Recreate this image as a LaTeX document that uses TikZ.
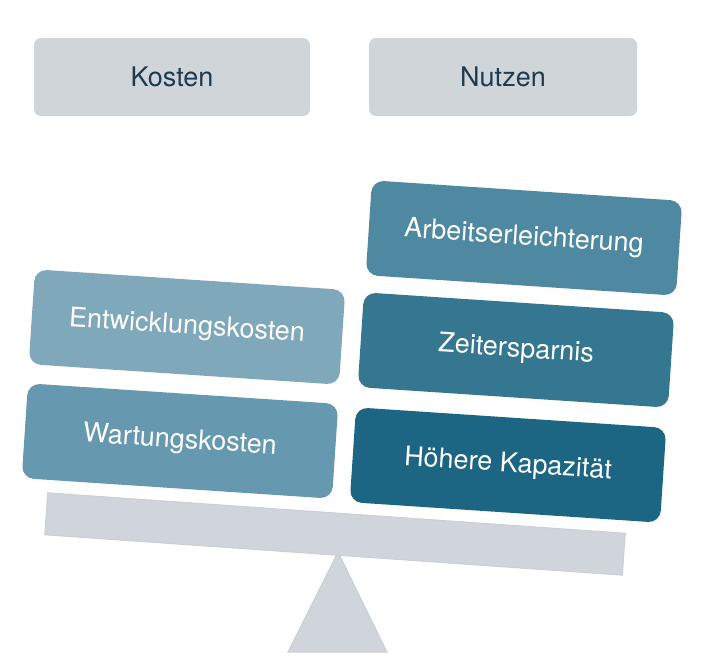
\documentclass[tikz,border=0pt]{standalone}
\usepackage{fontspec}
\setmainfont{TeX Gyre Heros}
\usepackage{tikz}
\usetikzlibrary{positioning}

\definecolor{headgray}{HTML}{D0D5DA}
\definecolor{headtext}{HTML}{1F3A4D}
\definecolor{beamgray}{HTML}{CFD5DA}
\definecolor{beamedge}{HTML}{CAD0D6}
\definecolor{costA}{HTML}{7FA8BA}
\definecolor{costB}{HTML}{6699AF}
\definecolor{gainA}{HTML}{4F89A1}
\definecolor{gainB}{HTML}{357791}
\definecolor{gainC}{HTML}{1C6583}

\begin{document}
\begin{tikzpicture}[x=1pt, y=-1pt,
  head/.style={fill=headgray, rounded corners=7pt, minimum height=78pt,
    text=headtext, font=\fontsize{27}{32}\selectfont},
  item/.style={rounded corners=12pt, rotate=-3.8, minimum width=311pt,
    minimum height=95pt, text=white, font=\fontsize{27}{32}\selectfont},
  beam/.style={fill=beamgray, draw=beamedge, line width=1pt}]
  \useasboundingbox (0,0) rectangle (706,670);
  % column heads
  \node[head, minimum width=276pt] (kosten) at (172,77) {Kosten};
  \node[head, minimum width=268pt] (nutzen) at (503,77) {Nutzen};
  % seesaw: stand and beam
  \coordinate (pivot) at (338,552);
  \draw[beam] (pivot) -- (288,652) -- (387,652) -- cycle;
  \node[beam, rotate=-4, minimum width=579pt, minimum height=42pt] (bar) at (335,534) {};
  % costs (left)
  \node[item, fill=costA] (entw) at (187,327) {Entwicklungskosten};
  \node[item, fill=costB] (wart) at (180,441) {Wartungskosten};
  % benefits (right)
  \node[item, fill=gainA] (arbeit) at (524,238) {Arbeitserleichterung};
  \node[item, fill=gainB] (zeit) at (516,350) {Zeitersparnis};
  \node[item, fill=gainC] (kapaz) at (508,465) {Höhere Kapazität};
\end{tikzpicture}
\end{document}
